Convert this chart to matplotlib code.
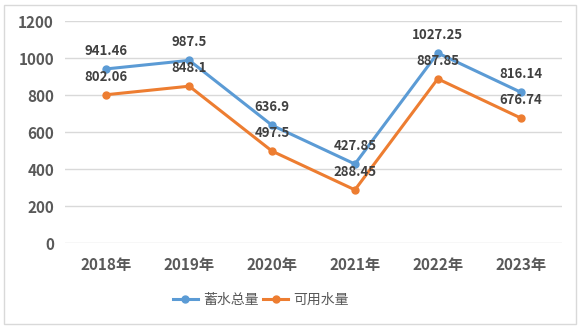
import matplotlib.pyplot as plt
from matplotlib.patches import Rectangle

plt.rcParams['font.family'] = ['Noto Sans CJK SC', 'DejaVu Sans']

years = ['2018年', '2019年', '2020年', '2021年', '2022年', '2023年']
total_storage = [941.46, 987.5, 636.9, 427.85, 1027.25, 816.14]
usable_water = [802.06, 848.1, 497.5, 288.45, 887.85, 676.74]
series_names = ['蓄水总量', '可用水量']

text_color = '#595959'
blue = '#5b9bd5'
orange = '#ed7d31'

fig = plt.figure(figsize=(5.81, 3.28), dpi=100)
ax = fig.add_axes([65 / 581, 1 - 243.3 / 328, 497 / 581, 222.3 / 328])

x = list(range(len(years)))
ax.plot(x, total_storage, color=blue, lw=2.2, marker='o', ms=5, label=series_names[0], zorder=3)
ax.plot(x, usable_water, color=orange, lw=2.2, marker='o', ms=5, label=series_names[1], zorder=3)

# data labels sit above each point for both series
for series in (total_storage, usable_water):
    for xi, v in zip(x, series):
        ax.annotate(f'{v:g}', (xi, v), xytext=(0, 8), textcoords='offset points',
                    ha='center', va='bottom', fontsize=9.5, fontweight='bold', color='#404040')

ax.set_xlim(-0.5, len(years) - 0.5)
ax.set_ylim(0, 1200)
ax.set_yticks(range(0, 1201, 200))
ax.set_xticks(x)
ax.set_xticklabels(years)
ax.grid(axis='y', color='#d9d9d9', lw=1)
ax.set_axisbelow(True)
for s in ax.spines.values():
    s.set_visible(False)
ax.tick_params(length=0, labelsize=11, labelcolor=text_color, pad=8)
ax.tick_params(axis='x', pad=10)
for lab in ax.get_xticklabels() + ax.get_yticklabels():
    lab.set_fontweight('bold')

leg = fig.legend(loc='center', bbox_to_anchor=(261 / 581, 1 - 300 / 328), ncol=2,
                 frameon=False, fontsize=10, handlelength=1.8, columnspacing=0.3,
                 handletextpad=0.4)
for t in leg.get_texts():
    t.set_color(text_color)

fig.patches.append(Rectangle((4 / 581, 4 / 328), 572 / 581, 319 / 328, transform=fig.transFigure,
                             fill=False, edgecolor='#d9d9d9', lw=1))

fig.savefig('out.png', dpi=100)
